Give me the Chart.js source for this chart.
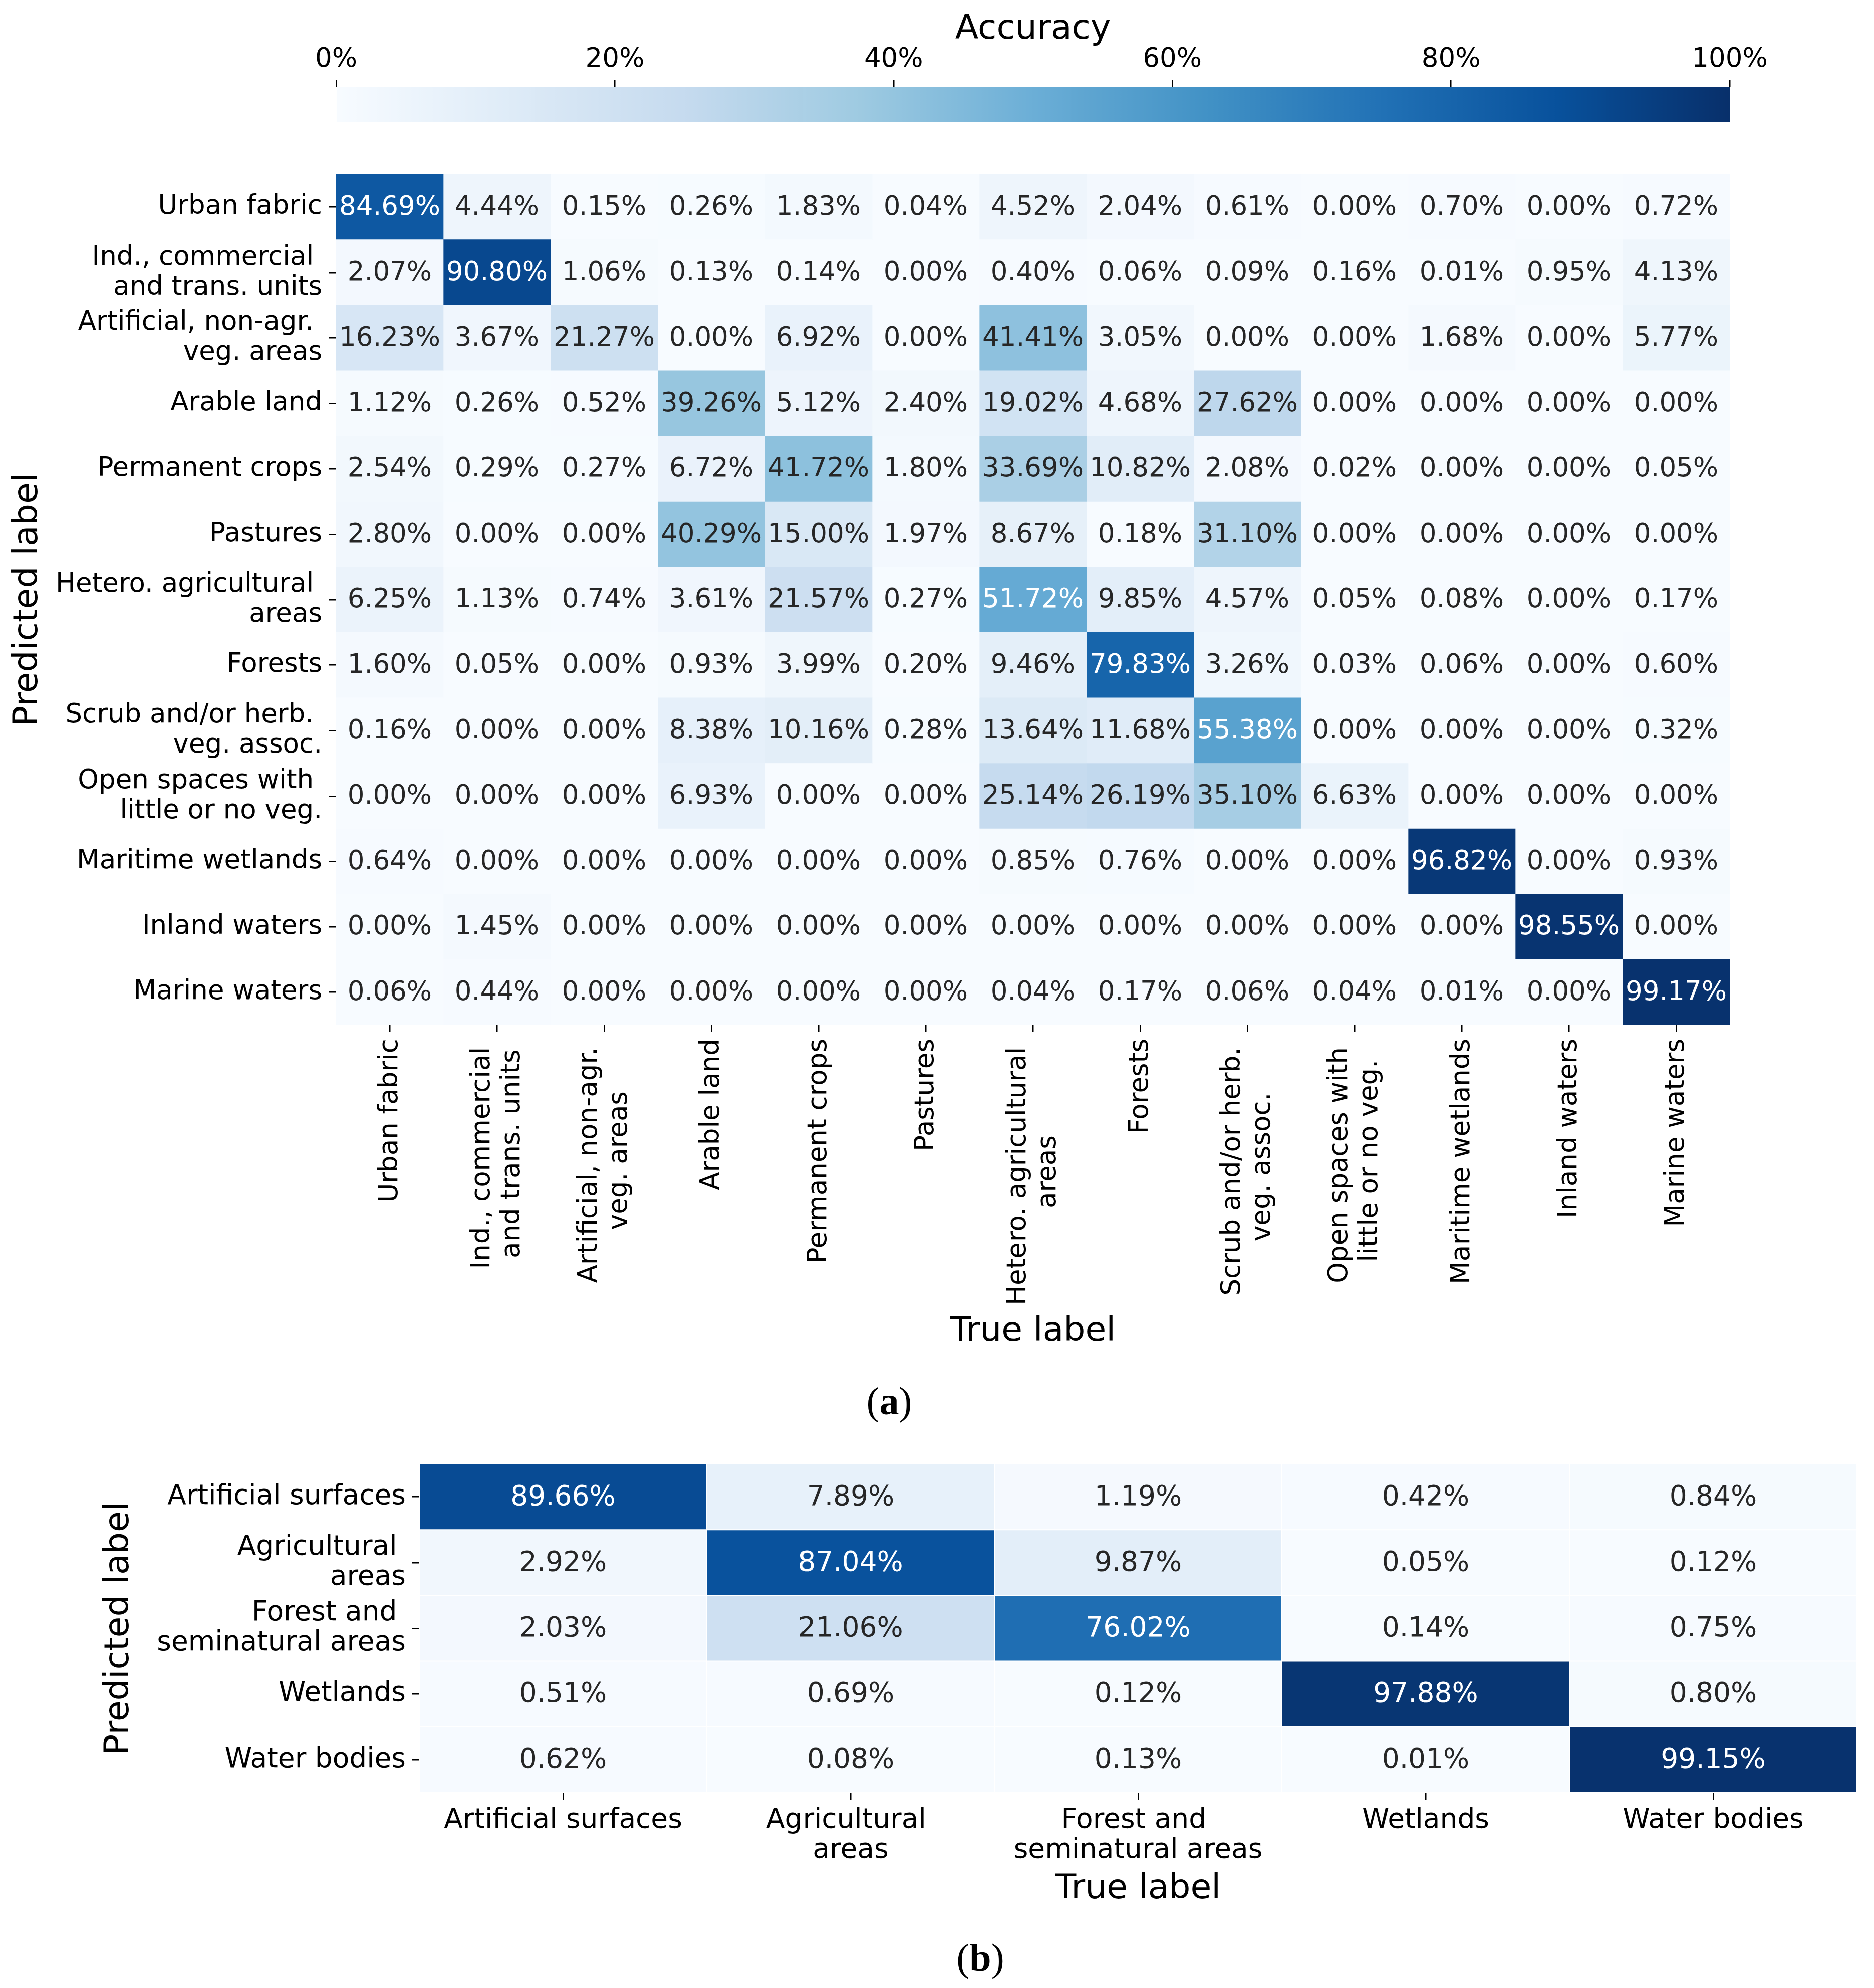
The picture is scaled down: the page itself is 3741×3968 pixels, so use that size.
<!DOCTYPE html>
<html>
<head>
<meta charset="utf-8">
<script src="https://cdn.jsdelivr.net/npm/chart.js@4.4.0/dist/chart.umd.min.js"></script>
<style>
  html, body { margin: 0; padding: 0; background: #fff; }
  body { width: 3741px; height: 3968px; position: relative; overflow: hidden; }
  canvas { position: absolute; left: 0; }
</style>
</head>
<body>
<canvas id="cbar" width="3741" height="250" style="top:0px"></canvas>
<canvas id="fine" width="3741" height="2610" style="top:250px"></canvas>
<canvas id="coarse" width="3741" height="1108" style="top:2860px"></canvas>
<script>
// ---- data ----
var fineLabels = ['Urban fabric', ['Ind., commercial ', 'and trans. units'], ['Artificial, non-agr. ', 'veg. areas'],
  'Arable land', 'Permanent crops', 'Pastures', ['Hetero. agricultural ', 'areas'], 'Forests',
  ['Scrub and/or herb. ', 'veg. assoc.'], ['Open spaces with ', 'little or no veg.'], 'Maritime wetlands',
  'Inland waters', 'Marine waters'];

// rows = predicted label, columns = true label (%)
var fineAcc = [
  [84.69, 4.44, 0.15, 0.26, 1.83, 0.04, 4.52, 2.04, 0.61, 0.00, 0.70, 0.00, 0.72],
  [2.07, 90.80, 1.06, 0.13, 0.14, 0.00, 0.40, 0.06, 0.09, 0.16, 0.01, 0.95, 4.13],
  [16.23, 3.67, 21.27, 0.00, 6.92, 0.00, 41.41, 3.05, 0.00, 0.00, 1.68, 0.00, 5.77],
  [1.12, 0.26, 0.52, 39.26, 5.12, 2.40, 19.02, 4.68, 27.62, 0.00, 0.00, 0.00, 0.00],
  [2.54, 0.29, 0.27, 6.72, 41.72, 1.80, 33.69, 10.82, 2.08, 0.02, 0.00, 0.00, 0.05],
  [2.80, 0.00, 0.00, 40.29, 15.00, 1.97, 8.67, 0.18, 31.10, 0.00, 0.00, 0.00, 0.00],
  [6.25, 1.13, 0.74, 3.61, 21.57, 0.27, 51.72, 9.85, 4.57, 0.05, 0.08, 0.00, 0.17],
  [1.60, 0.05, 0.00, 0.93, 3.99, 0.20, 9.46, 79.83, 3.26, 0.03, 0.06, 0.00, 0.60],
  [0.16, 0.00, 0.00, 8.38, 10.16, 0.28, 13.64, 11.68, 55.38, 0.00, 0.00, 0.00, 0.32],
  [0.00, 0.00, 0.00, 6.93, 0.00, 0.00, 25.14, 26.19, 35.10, 6.63, 0.00, 0.00, 0.00],
  [0.64, 0.00, 0.00, 0.00, 0.00, 0.00, 0.85, 0.76, 0.00, 0.00, 96.82, 0.00, 0.93],
  [0.00, 1.45, 0.00, 0.00, 0.00, 0.00, 0.00, 0.00, 0.00, 0.00, 0.00, 98.55, 0.00],
  [0.06, 0.44, 0.00, 0.00, 0.00, 0.00, 0.04, 0.17, 0.06, 0.04, 0.01, 0.00, 99.17]
];

var coarseLabels = ['Artificial surfaces', ['Agricultural ', 'areas'], ['Forest and ', 'seminatural areas'],
  'Wetlands', 'Water bodies'];

var coarseAcc = [
  [89.66, 7.89, 1.19, 0.42, 0.84],
  [2.92, 87.04, 9.87, 0.05, 0.12],
  [2.03, 21.06, 76.02, 0.14, 0.75],
  [0.51, 0.69, 0.12, 97.88, 0.80],
  [0.62, 0.08, 0.13, 0.01, 99.15]
];

var colorbarRange = [0, 100];
var colorbarTicks = [0, 20, 40, 60, 80, 100];

// ---- colour helpers (matplotlib "Blues") ----
var bluesStops = ['#f7fbff', '#deebf7', '#c6dbef', '#9ecae1', '#6baed6', '#4292c6', '#2171b5', '#08519c', '#08306b'];

function hex(h) {
  return [parseInt(h.substr(1, 2), 16), parseInt(h.substr(3, 2), 16), parseInt(h.substr(5, 2), 16)];
}
function blues(t) {
  t = Math.min(1, Math.max(0, t));
  var p = t * (bluesStops.length - 1);
  var i = Math.min(Math.floor(p), bluesStops.length - 2), f = p - i;
  var a = hex(bluesStops[i]), b = hex(bluesStops[i + 1]);
  return a.map(function (v, k) { return v + (b[k] - v) * f; });
}
function rgbStr(c) {
  return 'rgb(' + c.map(Math.round).join(',') + ')';
}
// same rule as seaborn: dark text on light cells
function luminance(c) {
  var l = c.map(function (v) {
    v = v / 255;
    return v <= 0.03928 ? v / 12.92 : Math.pow((v + 0.055) / 1.055, 2.4);
  });
  return 0.2126 * l[0] + 0.7152 * l[1] + 0.0722 * l[2];
}

Chart.defaults.font.family = "'DejaVu Sans'";
Chart.defaults.color = '#000';

var tickGrid = { drawOnChartArea: false, drawTicks: true, tickLength: 14, color: '#000', lineWidth: 2.5 };

// ---- plugins ----
function cellText(matrix, size) {
  return {
    id: 'cellText',
    afterDatasetsDraw: function (chart) {
      var ctx = chart.ctx, x = chart.scales.x, y = chart.scales.y;
      ctx.save();
      ctx.font = size + "px 'DejaVu Sans'";
      ctx.textAlign = 'center';
      ctx.textBaseline = 'alphabetic';
      matrix.forEach(function (row, r) {
        row.forEach(function (v, c) {
          ctx.fillStyle = luminance(blues(v / 100)) > 0.408 ? '#262626' : '#ffffff';
          ctx.fillText(v.toFixed(2) + '%', x.getPixelForValue(c + 0.5), y.getPixelForValue(r) + size * 0.29);
        });
      });
      ctx.restore();
    }
  };
}

function rotatedLabels(labels, size, lineH, offset) {
  return {
    id: 'rotatedLabels',
    afterDraw: function (chart) {
      var ctx = chart.ctx, x = chart.scales.x;
      ctx.save();
      ctx.font = size + "px 'DejaVu Sans'";
      ctx.fillStyle = '#000';
      ctx.textAlign = 'center';
      ctx.textBaseline = 'alphabetic';
      labels.forEach(function (lab, i) {
        var lines = [].concat(lab);
        var w = Math.max.apply(null, lines.map(function (l) { return ctx.measureText(l).width; }));
        ctx.save();
        ctx.translate(x.getPixelForValue(i + 0.5), x.top + offset);
        ctx.rotate(-Math.PI / 2);
        lines.forEach(function (l, k) {
          ctx.fillText(l, -w / 2, (k - (lines.length - 1) / 2) * lineH + size * 0.28);
        });
        ctx.restore();
      });
      ctx.restore();
    }
  };
}

function caption(letter, cx, baseline) {
  return {
    id: 'caption',
    afterDraw: function (chart) {
      var ctx = chart.ctx;
      var reg = "78px 'Liberation Serif'", bold = "bold 78px 'Liberation Serif'";
      ctx.save();
      ctx.fillStyle = '#000';
      ctx.textAlign = 'left';
      ctx.textBaseline = 'alphabetic';
      ctx.font = reg;
      var wp = ctx.measureText('(').width, wq = ctx.measureText(')').width;
      ctx.font = bold;
      var wl = ctx.measureText(letter).width;
      var x0 = cx - (wp + wl + wq) / 2;
      ctx.font = reg; ctx.fillText('(', x0, baseline);
      ctx.font = bold; ctx.fillText(letter, x0 + wp, baseline);
      ctx.font = reg; ctx.fillText(')', x0 + wp + wl, baseline);
      ctx.restore();
    }
  };
}

function heatDatasets(matrix, border) {
  return matrix[0].map(function (_, c) {
    return {
      data: matrix.map(function () { return [c, c + 1]; }),
      backgroundColor: matrix.map(function (row) { return rgbStr(blues(row[c] / 100)); }),
      borderColor: '#ffffff',
      borderWidth: border,
      borderSkipped: false,
      inflateAmount: border ? 0 : 'auto',
      grouped: false,
      barPercentage: 1,
      categoryPercentage: 1
    };
  });
}

var common = {
  responsive: false,
  animation: false,
  devicePixelRatio: 1,
  events: [],
  plugins: { legend: { display: false }, tooltip: { enabled: false } }
};

// ---- colour bar ----
new Chart(document.getElementById('cbar'), {
  type: 'bar',
  data: {
    labels: [''],
    datasets: [{
      data: [colorbarRange],
      backgroundColor: function (c) {
        var area = c.chart.chartArea;
        if (!area) return bluesStops[0];
        var g = c.chart.ctx.createLinearGradient(area.left, 0, area.right, 0);
        bluesStops.forEach(function (s, i) { g.addColorStop(i / (bluesStops.length - 1), s); });
        return g;
      },
      borderWidth: 0,
      barPercentage: 1,
      categoryPercentage: 1
    }]
  },
  options: Object.assign({}, common, {
    indexAxis: 'y',
    layout: { padding: { left: 671, right: 288, top: 0, bottom: 7 } },
    scales: {
      x: {
        type: 'linear', position: 'top', min: colorbarRange[0], max: colorbarRange[1],
        afterBuildTicks: function (s) { s.ticks = colorbarTicks.map(function (v) { return { value: v }; }); },
        afterFit: function (s) { s.height = 173; },
        ticks: { callback: function (v) { return v + '%'; }, font: { size: 53 }, padding: 8, maxRotation: 0, autoSkip: false },
        grid: tickGrid,
        border: { display: false },
        title: { display: true, text: 'Accuracy', font: { size: 68 }, padding: { top: 19, bottom: 0 } }
      },
      y: { display: false }
    }
  })
});

// ---- (a) 13 x 13 matrix ----
new Chart(document.getElementById('fine'), {
  type: 'bar',
  data: { labels: fineLabels, datasets: heatDatasets(fineAcc, 0) },
  options: Object.assign({}, common, {
    indexAxis: 'y',
    layout: { padding: { left: 0, right: 288, top: 98, bottom: 0 } },
    scales: {
      x: {
        type: 'linear', min: 0, max: fineLabels.length,
        afterBuildTicks: function (s) { s.ticks = fineLabels.map(function (_, i) { return { value: i + 0.5 }; }); },
        afterFit: function (s) { s.height = 814; },
        ticks: { display: false },
        grid: tickGrid,
        border: { display: false },
        title: { display: true, text: 'True label', font: { size: 68 }, padding: { top: 0, bottom: 161 } }
      },
      y: {
        type: 'category', offset: true,
        afterFit: function (s) { s.width = 671; },
        ticks: { font: { size: 53, lineHeight: 60 / 53 }, padding: 14, autoSkip: false },
        grid: Object.assign({ offset: false }, tickGrid),
        border: { display: false },
        title: { display: true, text: 'Predicted label', font: { size: 68 }, padding: { top: 16, bottom: 0 } }
      }
    }
  }),
  plugins: [cellText(fineAcc, 53), rotatedLabels(fineLabels, 53, 60, 27), caption('a', 1775, 2573)]
});

// ---- (b) 5 x 5 matrix ----
new Chart(document.getElementById('coarse'), {
  type: 'bar',
  data: { labels: coarseLabels, datasets: heatDatasets(coarseAcc, 1) },
  options: Object.assign({}, common, {
    indexAxis: 'y',
    layout: { padding: { left: 0, right: 34, top: 62, bottom: 0 } },
    scales: {
      x: {
        type: 'linear', min: 0, max: coarseLabels.length,
        afterBuildTicks: function (s) { s.ticks = coarseLabels.map(function (_, i) { return { value: i + 0.5 }; }); },
        afterFit: function (s) { s.height = 390; },
        ticks: {
          callback: function (v) { return coarseLabels[Math.floor(v)]; },
          font: { size: 55, lineHeight: 60 / 55 }, padding: 12, maxRotation: 0, minRotation: 0, autoSkip: false
        },
        grid: tickGrid,
        border: { display: false },
        title: { display: true, text: 'True label', font: { size: 68 }, padding: { top: 0, bottom: 156 } }
      },
      y: {
        type: 'category', offset: true,
        afterFit: function (s) { s.width = 837; },
        ticks: { font: { size: 55, lineHeight: 60 / 55 }, padding: 13, autoSkip: false },
        grid: Object.assign({ offset: false }, tickGrid),
        border: { display: false },
        title: { display: true, text: 'Predicted label', font: { size: 68 }, padding: { top: 198, bottom: 0 } }
      }
    }
  }),
  plugins: [cellText(coarseAcc, 55), caption('b', 1957, 1074)]
});
</script>
</body>
</html>
